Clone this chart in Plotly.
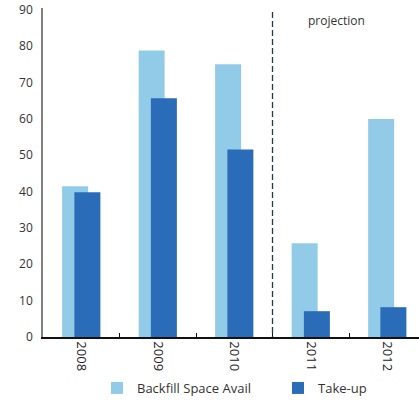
import plotly.graph_objects as go

years = ["2008", "2009", "2010", "2011", "2012"]
backfill = [41.5, 78.8, 75.0, 25.8, 60.0]
takeup = [39.8, 65.7, 51.6, 7.1, 8.2]
y_ticks = [0, 10, 20, 30, 40, 50, 60, 70, 80, 90]

FONT = "Open Sans"

fig = go.Figure()
fig.add_trace(go.Bar(x=years, y=backfill, name="Backfill Space Avail",
                     marker=dict(color="#92CBE8", line=dict(width=0)),
                     offset=-0.25, width=0.34, legend="legend"))
fig.add_trace(go.Bar(x=years, y=takeup, name="Take-up",
                     marker=dict(color="#2B6CB9", line=dict(width=0)),
                     offset=-0.09, width=0.34, legend="legend2"))

fig.add_shape(type="line", xref="x", yref="y", x0=2.5, x1=2.5, y0=-1.4, y1=89.5,
              line=dict(color="#1E3A4C", width=1.3, dash="6px,3px"))
fig.add_annotation(x=3.33, y=87.2, xref="x", yref="y", text="projection",
                   showarrow=False, font=dict(family=FONT, size=12, color="#333333"))

leg_common = dict(orientation="h", xanchor="left", xref="container", yref="container",
                  y=-0.022, yanchor="bottom",
                  font=dict(family=FONT, size=13, color="#333333"),
                  itemwidth=30, bgcolor="rgba(0,0,0,0)", borderwidth=0)

fig.update_layout(
    width=419, height=403,
    margin=dict(l=43, r=0, t=8, b=66, autoexpand=False),
    paper_bgcolor="white", plot_bgcolor="white",
    barmode="overlay",
    showlegend=True,
    legend=dict(x=0.2315, **leg_common),
    legend2=dict(x=0.6635, **leg_common),
    font=dict(family=FONT, size=12, color="#333333"),
)
fig.update_xaxes(type="category", range=[-0.5, 4.415], showline=True,
                 linecolor="#111111", linewidth=1.5, ticks="inside", ticklen=4,
                 tickcolor="#111111", tickson="boundaries", tickangle=90,
                 showgrid=False, zeroline=False, automargin=False,
                 tickfont=dict(family=FONT, size=13, color="#222222"))
fig.update_yaxes(range=[0, 90.5], tickvals=y_ticks, showline=True,
                 linecolor="#808080", linewidth=1.5, ticks="", showgrid=False,
                 zeroline=False, ticklabelstandoff=6, automargin=False,
                 ticklabeloverflow="allow",
                 tickfont=dict(family=FONT, size=12, color="#333333"))

fig.write_html("out.html")
